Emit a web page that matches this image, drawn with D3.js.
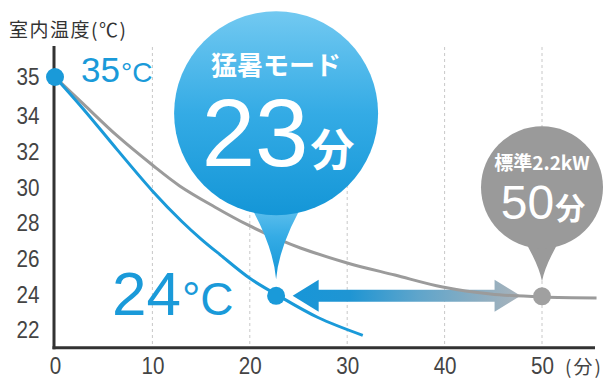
<!DOCTYPE html>
<html><head><meta charset="utf-8">
<script src="https://cdn.jsdelivr.net/npm/d3@7"></script>
<style>
html,body{margin:0;padding:0;background:#fff;}
svg{display:block;}
</style></head>
<body>
<svg id="chart" width="606" height="381"></svg>
<script>
// ---- data ----
const yTicks = [22, 24, 26, 28, 30, 32, 34, 35];
const xTicks = [0, 10, 20, 30, 40, 50];
const blueMinutes = [0, 2.9, 6.4, 10, 13, 15, 17, 20, 22.7, 27, 31.6];
const blueTemps   = [35, 34.18, 32.1, 29.8, 28.1, 27.1, 26.2, 24.9, 24, 22.7, 21.7];
const grayMinutes = [0, 2.9, 6.4, 10, 12.8, 16.4, 19.8, 23.1, 25.2, 30, 34.9, 39.8, 44.7, 50, 55.6];
const grayTemps   = [35, 34.31, 32.88, 31.25, 30.08, 28.9, 27.89, 27.05, 26.6, 25.76, 25.08, 24.41, 24.02, 23.85, 23.8];
const startPoint = {min: 0, temp: 35, label: "35", unit: "°C"};
const bluePoint = {min: 22.7, temp: 24, label: "24", unit: "°C", title: "猛暑モード", value: "23", valueUnit: "分"};
const grayPoint = {min: 50, temp: 24, title: "標準2.2kW", value: "50", valueUnit: "分"};
const arrowSpan = [24.4, 47.8];
const yTitle = "室内温度(℃)";
const xUnit = "(分)";

const svg = d3.select("#chart");
const x = d3.scaleLinear().domain([0, 50]).range([55, 542]);
const y = d3.scaleLinear().domain([22, 34, 35]).range([330, 116, 77]);
const xAxisTemp = 21;
const BLUE = "#1a9ad9", GRAY = "#9b9b9b";
const sans = "'Liberation Sans',Arial,sans-serif";
const cjk = "'Noto Sans CJK JP','Noto Sans',sans-serif";

const defs = svg.append("defs");
const bg = defs.append("linearGradient").attr("id","bubbleBlue").attr("x1",0).attr("y1",0).attr("x2",0).attr("y2",1);
bg.append("stop").attr("offset","0%").attr("stop-color","#72c9f1");
bg.append("stop").attr("offset","50%").attr("stop-color","#34abe5");
bg.append("stop").attr("offset","100%").attr("stop-color","#1496d7");
const ag = defs.append("linearGradient").attr("id","arrowGrad").attr("x1",0).attr("y1",0).attr("x2",1).attr("y2",0);
ag.append("stop").attr("offset","0%").attr("stop-color","#1896d8");
ag.append("stop").attr("offset","25%").attr("stop-color","#1f95d3");
ag.append("stop").attr("offset","55%").attr("stop-color","#5fa5cb");
ag.append("stop").attr("offset","100%").attr("stop-color","#a9b3bb");

const axisY = y(xAxisTemp);
// gridlines
svg.append("g").selectAll("line").data(xTicks.filter(d => d > 0)).join("line")
  .attr("x1", d => x(d)).attr("x2", d => x(d))
  .attr("y1", 47).attr("y2", axisY)
  .attr("stroke", "#c8c8c8").attr("stroke-width", 1).attr("stroke-dasharray", "3,3");

// arrow
const ax0 = x(arrowSpan[0]), ax1 = x(arrowSpan[1]), ay = y(24) + 1.5;
const hl = 26, hh = 16, sh = 6;
svg.append("path")
  .attr("d", `M${ax0},${ay} L${ax0+hl},${ay-hh} L${ax0+hl},${ay-sh} L${ax1-hl},${ay-sh} L${ax1-hl},${ay-hh} L${ax1},${ay} L${ax1-hl},${ay+hh} L${ax1-hl},${ay+sh} L${ax0+hl},${ay+sh} L${ax0+hl},${ay+hh} Z`)
  .attr("fill", "url(#arrowGrad)");

// curves
const line = d3.line().x(d => x(d[0])).y(d => y(d[1])).curve(d3.curveCatmullRom.alpha(0.5));
svg.append("path").datum(d3.zip(grayMinutes, grayTemps)).attr("d", line)
  .attr("fill","none").attr("stroke", GRAY).attr("stroke-width", 3);
svg.append("path").datum(d3.zip(blueMinutes, blueTemps)).attr("d", line)
  .attr("fill","none").attr("stroke", BLUE).attr("stroke-width", 3);

// axes lines
svg.append("line").attr("x1", x(0)-1).attr("x2", x(0)-1).attr("y1", 46).attr("y2", axisY+1.5)
  .attr("stroke","#333").attr("stroke-width",3);
svg.append("line").attr("x1", x(0)-2.5).attr("x2", 595).attr("y1", axisY).attr("y2", axisY)
  .attr("stroke","#333").attr("stroke-width",3);

// tick labels via d3 axes
const yAxis = svg.append("g").attr("transform", `translate(${x(0)-1},0)`)
  .call(d3.axisLeft(y).tickValues(yTicks).tickSize(0).tickPadding(17).tickFormat(d3.format("d")));
yAxis.select(".domain").remove();
yAxis.selectAll("text").attr("font-family", sans).attr("font-size", 24).attr("fill", "#444")
  .attr("transform", "scale(0.86,1)");

const xAxis = svg.append("g").attr("transform", `translate(0,${axisY})`)
  .call(d3.axisBottom(x).tickValues(xTicks).tickSize(0).tickPadding(9).tickFormat(d3.format("d")));
xAxis.select(".domain").remove();
xAxis.selectAll("text").attr("font-family", sans).attr("font-size", 24).attr("fill", "#444")
  .attr("transform", "scale(0.86,1)");

svg.append("text").attr("x", 584).attr("y", 374).attr("text-anchor","middle")
  .attr("font-family", cjk).attr("font-size", 19).attr("letter-spacing", 2).attr("fill", "#444").text(xUnit);
svg.append("text").attr("x", 9).attr("y", 37)
  .attr("font-family", cjk).attr("font-size", 19).attr("letter-spacing", 1.5).attr("fill", "#333").text(yTitle);

// bubbles
function bubble(px, cy, r, tipY, baseW, fill) {
  const g = svg.append("g");
  const baseY = cy + r * 0.8;
  g.append("path").attr("d",
    `M${px-baseW/2},${baseY} Q${px-3},${(baseY+tipY)/2+6} ${px},${tipY} Q${px+3},${(baseY+tipY)/2+6} ${px+baseW/2},${baseY} Z`)
    .attr("fill", fill);
  g.append("circle").attr("cx", px).attr("cy", cy).attr("r", r).attr("fill", fill);
  return g;
}
const bpx = x(bluePoint.min), bpy = y(bluePoint.temp);
const bb = bubble(bpx, bpy - 181, 102, bpy - 15, 64, "url(#bubbleBlue)");
bb.append("text").attr("x", bpx).attr("y", 75).attr("text-anchor","middle")
  .attr("font-family", cjk).attr("font-weight", 700).attr("font-size", 26).attr("fill","#fff").text(bluePoint.title);
const t23 = bb.append("text").attr("x", bpx + 2).attr("y", 166).attr("text-anchor","middle").attr("fill","#fff");
t23.append("tspan").attr("font-family", sans).attr("font-size", 96).text(bluePoint.value);
t23.append("tspan").attr("font-family", cjk).attr("font-weight", 700).attr("font-size", 44).attr("dx", 2).text(bluePoint.valueUnit);

const gpx = x(grayPoint.min), gpy = y(grayPoint.temp);
const gb = bubble(gpx, gpy - 107, 61, gpy - 13, 40, "#9a9a9a");
gb.append("text").attr("x", gpx).attr("y", 170).attr("text-anchor","middle")
  .attr("font-family", cjk).attr("font-weight", 700).attr("font-size", 19).attr("fill","#fff").text(grayPoint.title);
const t50 = gb.append("text").attr("x", gpx + 1).attr("y", 219).attr("text-anchor","middle").attr("fill","#fff");
t50.append("tspan").attr("font-family", sans).attr("font-size", 48).text(grayPoint.value);
t50.append("tspan").attr("font-family", cjk).attr("font-weight", 700).attr("font-size", 30).attr("dx", 1).text(grayPoint.valueUnit);

// dots
svg.append("circle").attr("cx", x(startPoint.min)).attr("cy", y(startPoint.temp)).attr("r", 9).attr("fill", BLUE);
svg.append("circle").attr("cx", x(bluePoint.min)).attr("cy", y(bluePoint.temp)+1.5).attr("r", 9).attr("fill", BLUE);
svg.append("circle").attr("cx", x(grayPoint.min)).attr("cy", y(grayPoint.temp)+2).attr("r", 9).attr("fill", "#a0a0a0");

// blue labels
const t35 = svg.append("text").attr("x", 81).attr("y", 82).attr("fill", BLUE);
t35.append("tspan").attr("font-family", sans).attr("font-size", 35).text(startPoint.label);
t35.append("tspan").attr("font-family", sans).attr("font-size", 28).attr("dx", 1).text(startPoint.unit);
const t24 = svg.append("text").attr("x", 112).attr("y", 315).attr("fill", BLUE);
t24.append("tspan").attr("font-family", sans).attr("font-size", 62).text(bluePoint.label);
t24.append("tspan").attr("font-family", sans).attr("font-size", 46).attr("dx", 1).text(bluePoint.unit);
</script>
</body></html>
